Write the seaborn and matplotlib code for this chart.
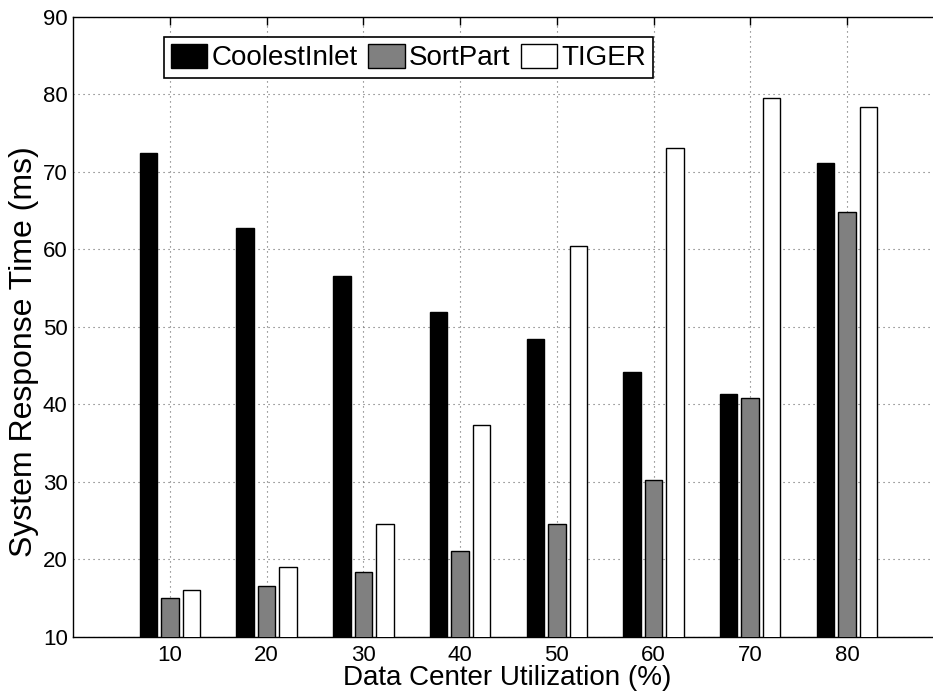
import numpy as np
import pandas as pd
import matplotlib
matplotlib.use("Agg")
import matplotlib.pyplot as plt
import seaborn as sns

utilization = [10, 20, 30, 40, 50, 60, 70, 80]
coolest_inlet = [72.4, 62.7, 56.5, 51.9, 48.4, 44.1, 41.3, 71.1]
sort_part = [15.0, 16.5, 18.3, 21.0, 24.6, 30.2, 40.8, 64.8]
tiger = [16.0, 19.0, 24.5, 37.3, 60.4, 73.0, 79.5, 78.4]
series_names = ["CoolestInlet", "SortPart", "TIGER"]
colors = ["#000000", "#808080", "#ffffff"]
y_ticks = [10, 20, 30, 40, 50, 60, 70, 80, 90]

df = pd.DataFrame({
    "util": utilization * 3,
    "value": coolest_inlet + sort_part + tiger,
    "method": [series_names[0]] * 8 + [series_names[1]] * 8 + [series_names[2]] * 8,
})

sns.set_theme(style="white")
plt.rcParams["font.family"] = ["Liberation Sans", "DejaVu Sans"]
plt.rcParams["text.color"] = "black"
plt.rcParams["axes.labelcolor"] = "black"

fig = plt.figure(figsize=(9.33, 6.92), dpi=100)
# axes runs to the right edge of the canvas (the reference is cropped there)
ax = fig.add_axes([73.3 / 933, 55.3 / 692, (933 - 73.3) / 933, 620 / 692])
ax.patch.set_facecolor("white")

sns.barplot(data=df, x="util", y="value", hue="method", hue_order=series_names,
            palette=colors, native_scale=True, width=0.667, gap=0.185,
            edgecolor="black", linewidth=1.0, ax=ax, zorder=3, legend=True,
            err_kws={"linewidth": 0})

ax.set_xlim(0, 88.9)
ax.set_ylim(10, 90)
ax.set_xticks(utilization)
ax.set_xticklabels([str(u) for u in utilization])
ax.set_yticks(y_ticks)
ax.set_yticklabels([str(t) for t in y_ticks])

ax.grid(True, linestyle=(0, (1, 3.5)), color="#666666", linewidth=0.8, zorder=0)
ax.set_axisbelow(True)

for name, s in ax.spines.items():
    s.set_color("black")
    s.set_linewidth(1.0)
    s.set_visible(name != "right")

ax.tick_params(axis="both", direction="in", length=6, width=1, colors="black",
               labelsize=16, top=True, right=False)
ax.tick_params(axis="x", pad=6)
ax.tick_params(axis="y", pad=4)

ax.set_xlabel("Data Center Utilization (%)", fontsize=20, color="black")
ax.xaxis.set_label_coords((507.5 - 73.3) / (933 - 73.3), (636.7 - 685.0) / 620)
ax.xaxis.label.set_va("baseline")
ax.set_ylabel("System Response Time (ms)", fontsize=23, color="black")
ax.yaxis.set_label_coords(-0.0394 * 870.4 / (933 - 73.3), 0.459)

handles, labels = ax.get_legend_handles_labels()
leg = ax.legend(handles, labels, loc="upper left",
                bbox_to_anchor=((164 - 73.3) / (933 - 73.3), 0.9673),
                ncol=3, fontsize=20, frameon=True, fancybox=False, framealpha=1,
                edgecolor="black", handlelength=1.3, handleheight=0.95,
                handletextpad=0.15, columnspacing=0.4, borderpad=0.25,
                borderaxespad=0)
leg.get_frame().set_linewidth(1.2)
for t in leg.get_texts():
    t.set_color("black")
for h in leg.legend_handles:
    h.set_edgecolor("black")

fig.savefig("out.png", dpi=100, facecolor="white")
